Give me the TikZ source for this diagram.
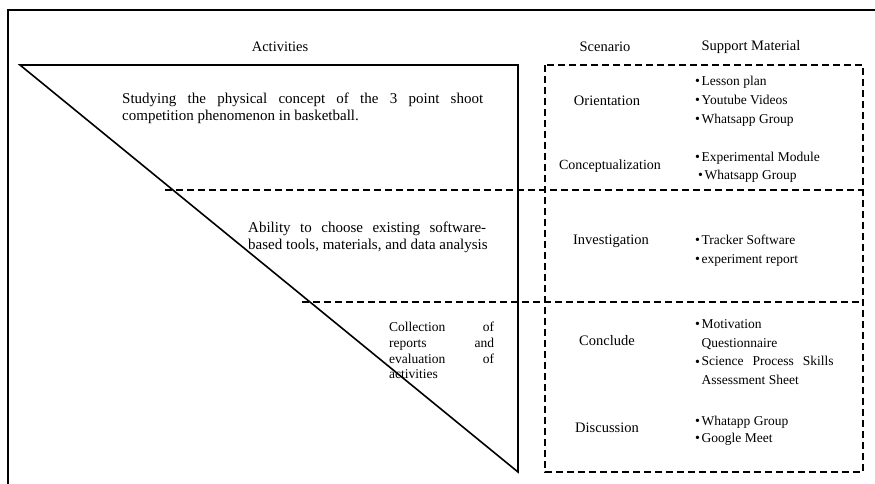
\documentclass[tikz,border=0pt]{standalone}
\usepackage{fontspec}
\setmainfont{Liberation Serif}
\newcommand{\bul}{\makebox[6.5pt][l]{\raisebox{-0.4pt}{\fontsize{14}{14}\selectfont\textbullet}}}

\begin{document}
\begin{tikzpicture}[x=1pt,y=-1pt,
    solidline/.style={line width=1.6pt},
    cutline/.style={line width=1.6pt,dash pattern=on 7pt off 4pt},
    head/.style={font=\fontsize{14.5}{17}\selectfont},
    scen/.style={font=\fontsize{14.5}{17}\selectfont},
    act/.style={font=\fontsize{15}{17}\selectfont,inner sep=0pt,align=left,anchor=west},
    mat/.style={font=\fontsize{13.5}{19}\selectfont,inner sep=0pt,align=left,anchor=west}]
    \useasboundingbox (0,0) rectangle (875,483);
    \clip (0,0) rectangle (875,483);

    % frame, triangle and dashed box
    \draw[solidline] (8,10) rectangle (890,500);
    \draw[solidline] (20,65) -- (518,65) -- (518,472) -- cycle;
    \draw[cutline] (545,65) rectangle (863,472);
    \draw[cutline] (165,190) -- (863,190);
    \draw[cutline] (302,302) -- (863,302);

    % headers
    \node[head] (activities) at (280,47) {Activities};
    \node[head] (scenario) at (605,47) {Scenario};
    \node[head] (support) at (751,47) {Support Material};

    % activities
    \node[act] (study) at (122,108.5) {\makebox[361pt][s]{Studying the physical concept of the 3 point shoot}\\competition phenomenon in basketball.};
    \node[act] (ability) at (248,237.5) {\makebox[238pt][s]{Ability to choose existing software-}\\based tools, materials, and data analysis};
    \node[act,font=\fontsize{13.5}{15.7}\selectfont] (collect) at (389,350.5) {\makebox[105pt][s]{Collection\hfill of}\\\makebox[105pt][s]{reports\hfill and}\\\makebox[105pt][s]{evaluation\hfill of}\\activities};

    % scenario
    \node[scen] (orient) at (607,101) {Orientation};
    \node[scen,font=\fontsize{14}{16}\selectfont] (concept) at (610,166) {Conceptualization};
    \node[scen] (invest) at (611,241) {Investigation};
    \node[scen] (conclude) at (607,341) {Conclude};
    \node[scen] (discuss) at (607,428) {Discussion};

    % support material
    \node[mat] (orientmat) at (695,101) {\bul Lesson plan\\\bul Youtube Videos\\\bul Whatsapp Group};
    \node[mat,font=\fontsize{13.5}{18}\selectfont] (conceptmat) at (695,167) {\bul Experimental Module\\\hspace*{3pt}\bul Whatsapp Group};
    \node[mat] (investmat) at (695,250.5) {\bul Tracker Software\\\bul experiment report};
    \node[mat,font=\fontsize{13.5}{18.7}\selectfont] (conclmat) at (695,352) {\bul Motivation\\\hspace*{6.5pt}Questionnaire\\\bul\makebox[132pt][s]{Science Process Skills}\\\hspace*{6.5pt}Assessment Sheet};
    \node[mat,font=\fontsize{13.5}{17}\selectfont] (discmat) at (695,430.5) {\bul Whatapp Group\\\bul Google Meet};
\end{tikzpicture}
\end{document}
